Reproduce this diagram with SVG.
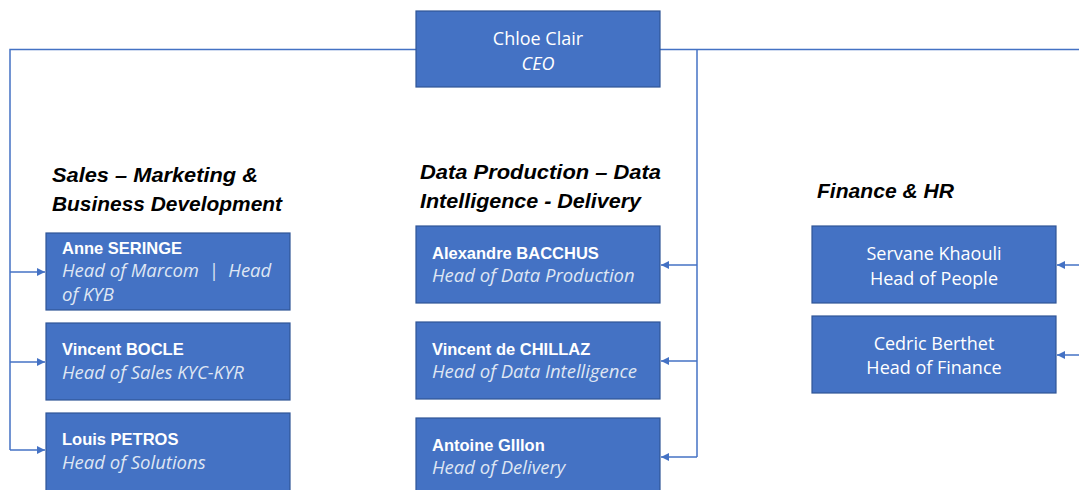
<svg xmlns="http://www.w3.org/2000/svg" width="1079" height="490" viewBox="0 0 1079 490">
<style>
.box{fill:#4472C4;stroke:#2F5597;stroke-width:1.2}
.name{font-family:"Liberation Sans",Arial,sans-serif;font-size:16.5px;font-weight:bold;fill:#ffffff}
.role{font-family:"Open Sans","Liberation Sans",sans-serif;font-size:18.5px;font-style:italic;fill:#dfe6f3;white-space:pre}
.ctr{font-family:"Open Sans","Liberation Sans",sans-serif;font-size:18px;fill:#ffffff;text-anchor:middle}
.head{font-family:"Liberation Sans",Arial,sans-serif;font-size:21px;font-weight:bold;font-style:italic;fill:#000000}
.conn{fill:none;stroke:#4472C4;stroke-width:1.5}
</style>
<defs>
<marker id="arr" viewBox="0 0 10 10" refX="10" refY="5" markerWidth="8" markerHeight="8" markerUnits="userSpaceOnUse" orient="auto">
<path d="M0,0 L10,5 L0,10 Z" fill="#4472C4"/>
</marker>
</defs>
<rect width="1079" height="490" fill="#ffffff"/>
<g id="connectors">
<path class="conn" d="M416,49.5 H10 V450"/>
<path class="conn" d="M10,272 H45" marker-end="url(#arr)"/>
<path class="conn" d="M10,362 H45" marker-end="url(#arr)"/>
<path class="conn" d="M10,450 H45" marker-end="url(#arr)"/>
<path class="conn" d="M660,49.5 H1079"/>
<path class="conn" d="M697,49.5 V457"/>
<path class="conn" d="M697,265 H661" marker-end="url(#arr)"/>
<path class="conn" d="M697,361 H661" marker-end="url(#arr)"/>
<path class="conn" d="M697,457 H661" marker-end="url(#arr)"/>
<path class="conn" d="M1079,265 H1057" marker-end="url(#arr)"/>
<path class="conn" d="M1079,355 H1057" marker-end="url(#arr)"/>
</g>
<g id="ceo">
<rect class="box" x="416" y="11" width="244" height="76"/>
<text class="ctr" x="538" y="45">Chloe Clair</text>
<text class="ctr" x="538" y="70" font-style="italic">CEO</text>
</g>
<g id="heading-sales"><text class="head" x="52" y="182" textLength="206" lengthAdjust="spacingAndGlyphs">Sales – Marketing &amp;</text><text class="head" x="52" y="211" textLength="230" lengthAdjust="spacingAndGlyphs">Business Development</text></g>
<g id="heading-data"><text class="head" x="420" y="179" textLength="241" lengthAdjust="spacingAndGlyphs">Data Production – Data</text><text class="head" x="420" y="208" textLength="221" lengthAdjust="spacingAndGlyphs">Intelligence - Delivery</text></g>
<g id="heading-finance"><text class="head" x="817" y="198" textLength="137" lengthAdjust="spacingAndGlyphs">Finance &amp; HR</text></g>
<g id="anne">
<rect class="box" x="46" y="233" width="244" height="77"/>
<text class="name" x="62" y="254">Anne SERINGE</text>
<text class="role" x="62" y="277">Head of Marcom  |  Head</text>
<text class="role" x="62" y="301">of KYB</text>
</g>
<g id="vincent-b">
<rect class="box" x="46" y="323" width="244" height="77"/>
<text class="name" x="62" y="355">Vincent BOCLE</text>
<text class="role" x="62" y="379">Head of Sales KYC-KYR</text>
</g>
<g id="louis">
<rect class="box" x="46" y="413" width="244" height="78"/>
<text class="name" x="62" y="445">Louis PETROS</text>
<text class="role" x="62" y="469">Head of Solutions</text>
</g>
<g id="alexandre">
<rect class="box" x="416" y="226" width="244" height="77"/>
<text class="name" x="432" y="259">Alexandre BACCHUS</text>
<text class="role" x="432" y="282">Head of Data Production</text>
</g>
<g id="vincent-c">
<rect class="box" x="416" y="322" width="244" height="77"/>
<text class="name" x="432" y="355">Vincent de CHILLAZ</text>
<text class="role" x="432" y="378">Head of Data Intelligence</text>
</g>
<g id="antoine">
<rect class="box" x="416" y="418" width="244" height="73"/>
<text class="name" x="432" y="451">Antoine GIllon</text>
<text class="role" x="432" y="474">Head of Delivery</text>
</g>
<g id="servane">
<rect class="box" x="812" y="226" width="244" height="77"/>
<text class="ctr" x="934" y="260">Servane Khaouli</text>
<text class="ctr" x="934" y="285">Head of People</text>
</g>
<g id="cedric">
<rect class="box" x="812" y="316" width="244" height="77"/>
<text class="ctr" x="934" y="350">Cedric Berthet</text>
<text class="ctr" x="934" y="374">Head of Finance</text>
</g>
</svg>
